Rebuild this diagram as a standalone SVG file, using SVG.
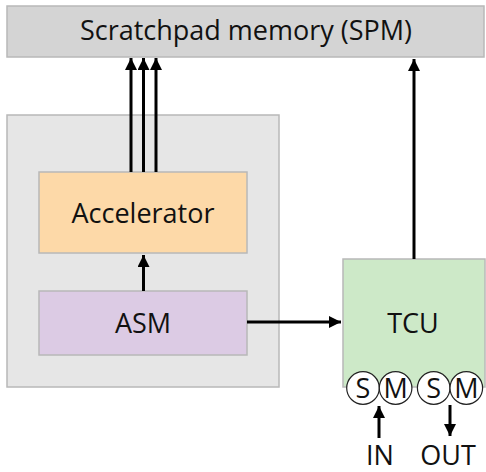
<svg xmlns="http://www.w3.org/2000/svg" width="486" height="472" viewBox="0 0 486 472">
<defs>
<marker id="ah" viewBox="0 0 10 10" refX="10" refY="5" markerWidth="4" markerHeight="4" markerUnits="strokeWidth" orient="auto">
<path d="M0,0 L10,5 L0,10 z" fill="#000"/>
</marker>
<style>
.box{stroke:#b8b8b8;stroke-width:1.5}
.lbl{font-family:"Open Sans","Lato",sans-serif;font-size:27px;fill:#111;text-anchor:middle}
.cl{font-family:"Open Sans",sans-serif;font-size:27px;fill:#111;text-anchor:middle}
.edge{stroke:#000;stroke-width:3;fill:none;marker-end:url(#ah)}
.port{fill:#fff;stroke:#222;stroke-width:1.2}
</style>
</defs>
<rect width="486" height="472" fill="#fff"/>
<g id="spm">
<rect class="box" x="7" y="6" width="477" height="51" fill="#d4d4d4"/>
<text class="lbl" x="246" y="40" font-size="28">Scratchpad memory (SPM)</text>
</g>
<g id="container">
<rect class="box" x="7" y="115" width="272" height="272" fill="#e6e6e6"/>
</g>
<g id="accelerator">
<rect class="box" x="39" y="172" width="208" height="81" fill="#fdd9a8"/>
<text class="lbl" x="143" y="223" font-size="28.5">Accelerator</text>
</g>
<g id="asm">
<rect class="box" x="39" y="291" width="208" height="64" fill="#dccbe4"/>
<text class="lbl" x="143" y="333">ASM</text>
</g>
<g id="tcu">
<rect class="box" x="343" y="259" width="142" height="128" fill="#cde9c8"/>
<text class="lbl" x="413" y="333">TCU</text>
</g>
<g id="ports">
<circle class="port" cx="363" cy="388" r="16.3"/>
<text class="cl" x="363" y="398">S</text>
<circle class="port" cx="395.6" cy="388" r="16.3"/>
<text class="cl" x="395.6" y="398">M</text>
<circle class="port" cx="433.7" cy="388" r="16.3"/>
<text class="cl" x="433.7" y="398">S</text>
<circle class="port" cx="466.3" cy="388" r="16.3"/>
<text class="cl" x="466.3" y="398">M</text>
</g>
<g id="labels">
<text class="lbl" x="380" y="465" font-size="24">IN</text>
<text class="lbl" x="448" y="465" font-size="24">OUT</text>
</g>
<g id="connectors">
<line class="edge" x1="131" y1="172" x2="131" y2="58"/>
<line class="edge" x1="143.5" y1="172" x2="143.5" y2="58"/>
<line class="edge" x1="156" y1="172" x2="156" y2="58"/>
<line class="edge" x1="143.5" y1="291" x2="143.5" y2="255"/>
<line class="edge" x1="247" y1="322" x2="341" y2="322"/>
<line class="edge" x1="414" y1="259" x2="414" y2="59"/>
<line class="edge" x1="379" y1="438" x2="379" y2="406"/>
<line class="edge" x1="450" y1="405" x2="450" y2="436"/>
</g>
</svg>
